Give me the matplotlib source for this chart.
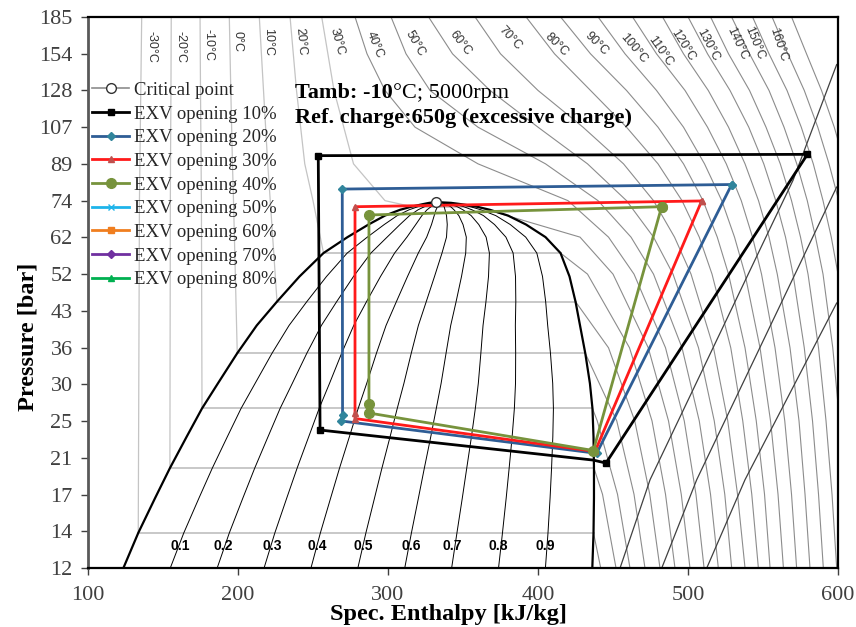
import numpy as np
import matplotlib.pyplot as plt

plt.rcParams['font.family'] = ['Liberation Serif', 'DejaVu Serif']

# ── R744 saturation dome (p in bar, h in kJ/kg) ─────────────────────
dome_p  = [12.0, 14.28, 17.0, 19.70, 23.0, 26.49, 30.0, 34.85, 40.0, 45.02,
           51.0, 57.29, 62.0, 66.0, 69.0, 71.0, 72.14, 73.0, 73.5, 73.77]
dome_hl = [123.6, 133.5, 144.8, 154.6, 165.7, 176.0, 186.6, 199.5, 212.5, 226.0,
           241.0, 257.0, 273.0, 287.0, 298.0, 308.0, 315.8, 323.0, 327.5, 332.0]
dome_hv = [436.2, 437.0, 437.3, 437.3, 437.0, 436.3, 434.6, 431.5, 428.0, 425.0,
           421.0, 415.0, 405.0, 392.0, 380.0, 368.0, 359.0, 349.0, 342.0, 332.0]
crit_h = [332.0]
crit_p = [73.8]
quality = [0.1, 0.2, 0.3, 0.4, 0.5, 0.6, 0.7, 0.8, 0.9]

# subcritical isotherms: saturation pressure and liquid branch
sat_T = [-30, -20, -10, 0, 10, 20, 30]
sat_p = [14.28, 19.70, 26.49, 34.85, 45.02, 57.29, 72.14]
liq_p = [185.0, 128.4, 89.2, 74.3]
liq_h = [
    [135.8, 135.2, 134.6, 134.3],
    [155.5, 155.3, 155.0, 154.9],
    [174.7, 175.0, 175.4, 175.6],
    [194.2, 195.2, 196.3, 197.0],
    [214.2, 217.0, 219.8, 221.5],
    [234.7, 239.0, 244.5, 250.0],
    [255.8, 264.0, 277.0, 298.0],
]

# vapour / supercritical isotherms on a pressure grid (nan = inside dome or liquid)
iso_p = [12.0, 17.3, 24.9, 35.8, 51.6, 62.0, 74.3, 89.2, 107.0, 128.4, 154.0, 185.0]
iso_T = [-30, -20, -10, 0, 10, 20, 30, 40, 50, 60, 70, 80, 90, 100,
         110, 120, 130, 140, 150, 160, 170, 180]
nan = np.nan
iso_h = [
    [441.8, nan, nan, nan, nan, nan, nan, nan, nan, nan, nan, nan],
    [452.0, 443.0, nan, nan, nan, nan, nan, nan, nan, nan, nan, nan],
    [461.3, 453.0, 439.5, nan, nan, nan, nan, nan, nan, nan, nan, nan],
    [471.3, 464.0, 452.5, nan, nan, nan, nan, nan, nan, nan, nan, nan],
    [481.3, 474.5, 464.5, 447.0, nan, nan, nan, nan, nan, nan, nan, nan],
    [491.3, 485.0, 476.0, 461.0, 433.0, nan, nan, nan, nan, nan, nan, nan],
    [501.3, 495.5, 487.0, 473.5, 450.0, 428.0, nan, nan, nan, nan, nan, nan],
    [510.7, 505.3, 497.5, 485.0, 464.0, 447.0, 420.0, 360.0, 318.0, 298.0, 286.0, 278.0],
    [520.2, 515.0, 507.5, 496.0, 477.0, 462.0, 440.0, 405.0, 360.0, 328.0, 312.0, 302.0],
    [529.1, 524.5, 517.5, 507.0, 490.0, 477.0, 459.0, 433.0, 400.0, 368.0, 343.0, 327.0],
    [538.0, 533.0, 526.5, 517.0, 502.0, 491.0, 477.0, 457.0, 430.0, 400.0, 375.0, 358.0],
    [546.9, 542.5, 536.5, 528.5, 516.0, 507.5, 496.0, 480.0, 459.0, 435.0, 411.0, 392.0],
    [554.7, 551.0, 545.5, 538.0, 527.0, 519.5, 510.0, 497.0, 480.0, 459.0, 435.0, 415.0],
    [563.6, 560.0, 555.0, 548.0, 538.0, 531.0, 522.5, 511.0, 497.0, 479.0, 458.0, 440.0],
    [572.4, 569.0, 564.5, 558.0, 549.0, 543.0, 535.5, 525.5, 513.0, 498.0, 479.0, 463.0],
    [581.3, 578.0, 574.0, 568.0, 559.5, 554.0, 547.0, 538.0, 527.0, 513.5, 497.0, 483.0],
    [590.2, 587.0, 583.0, 577.5, 570.0, 565.0, 558.5, 550.5, 540.5, 528.0, 513.0, 500.0],
    [599.1, 596.0, 592.0, 587.0, 580.0, 575.0, 569.0, 561.5, 552.0, 541.0, 527.0, 515.0],
    [608.0, 605.0, 601.0, 596.5, 590.0, 585.0, 579.5, 572.5, 564.0, 554.0, 541.0, 529.0],
    [617.0, 614.0, 610.5, 606.0, 600.0, 595.5, 590.0, 583.5, 575.5, 566.0, 554.0, 543.0],
    [626.0, 623.0, 619.5, 615.5, 609.5, 605.5, 600.5, 594.0, 586.5, 577.5, 566.5, 556.0],
    [635.0, 632.0, 628.5, 624.5, 619.0, 615.0, 610.5, 604.5, 597.5, 589.0, 579.0, 569.0],
]

# isentropes in the superheated region
isen_h = [[454.7, 474.7, 570.0, 599.1], [482.5, 505.8, 599.1], [512.5, 538.0, 599.1]]
isen_p = [[12.0, 18.6, 82.2, 146.0], [12.0, 18.6, 79.5], [12.0, 18.6, 44.7]]

# measured cycles
exv10_h = [579.6, 253.5, 254.7, 436.9, 445.3, 579.6]
exv10_p = [93.5, 92.9, 23.8, 20.5, 20.2, 93.5]
exv20_h = [529.1, 269.5, 269.7, 268.6, 439.1, 529.1]
exv20_p = [80.5, 78.7, 25.6, 24.9, 21.2, 80.5]
exv30_h = [509.1, 278.0, 278.0, 278.0, 438.0, 509.1]
exv30_p = [74.2, 72.1, 25.9, 25.2, 21.4, 74.2]
exv40_h = [482.4, 287.3, 287.3, 287.3, 436.9, 482.4]
exv40_p = [72.1, 69.2, 27.1, 25.9, 21.5, 72.1]

yticks = [12 * 1.2 ** k for k in range(16)]
ytick_labels = ['12', '14', '17', '21', '25', '30', '36', '43', '52', '62',
                '74', '89', '107', '128', '154', '185']
xticks = [100, 200, 300, 400, 500, 600]

LIQ_GREY = '#c4c4c4'
VAP_GREY = '#8c8c8c'

fig = plt.figure(figsize=(8.56, 6.27), dpi=100)
ax = fig.add_axes([0.1028, 0.0941, 0.8762, 0.8788])
ax.set_yscale('log')
ax.set_xlim(100, 600)
ax.set_ylim(12, 12 * 1.2 ** 15)

# liquid side + two-phase plateau of the subcritical isotherms
for ps, row in zip(sat_p, liq_h):
    hl = np.interp(ps, dome_p, dome_hl)
    hv = np.interp(ps, dome_p, dome_hv)
    ax.plot(row + [hl], liq_p + [ps], color=LIQ_GREY, lw=0.9, zorder=1)
    ax.plot([hl, hv], [ps, ps], color=LIQ_GREY, lw=1.3, zorder=1)

# vapour / supercritical branches
for T, row in zip(iso_T, iso_h):
    hs = [h for h in row if not np.isnan(h)]
    ps = [p for h, p in zip(row, iso_p) if not np.isnan(h)]
    if T in sat_T:
        i = sat_T.index(T)
        hs = hs + [np.interp(sat_p[i], dome_p, dome_hv)]
        ps = ps + [sat_p[i]]
    ax.plot(hs, ps, color=VAP_GREY, lw=0.8, zorder=1)

for hs, ps in zip(isen_h, isen_p):
    ax.plot(hs, ps, color='#404040', lw=0.9, zorder=1)

# quality lines and dome
hl_arr = np.array(dome_hl)
hv_arr = np.array(dome_hv)
for q in quality:
    ax.plot(hl_arr + q * (hv_arr - hl_arr), dome_p, color='black', lw=0.7, zorder=2)
ax.plot(dome_hl, dome_p, color='black', lw=1.6, zorder=2)
ax.plot(dome_hv, dome_p, color='black', lw=1.6, zorder=2)

q_label_h = [161.3, 190.2, 223.1, 252.5, 283.5, 315.3, 342.5, 373.5, 404.7]
for q, h in zip(quality, q_label_h):
    ax.text(h, 13.4, f'{q:.1f}', family='Liberation Sans', fontweight='bold',
            fontsize=10, ha='center', va='center', zorder=3)

# isotherm labels along the top
lab_x = [0.0849, 0.1227, 0.1604, 0.199, 0.2404, 0.2827, 0.3316, 0.3827, 0.436,
         0.496, 0.5627, 0.625, 0.678, 0.727, 0.7627, 0.7937, 0.827, 0.865, 0.889, 0.920]
lab_y = [0.946, 0.946, 0.949, 0.955, 0.955, 0.955, 0.955, 0.949, 0.952,
         0.952, 0.961, 0.949, 0.952, 0.943, 0.937, 0.949, 0.949, 0.952, 0.952, 0.949]
lab_rot = [-90, -90, -90, -90, -90, -85, -75, -68, -60, -52, -47, -45, -45,
           -50, -55, -58, -62, -65, -68, -72]
for T, x, y, r in zip(iso_T[:20], lab_x, lab_y, lab_rot):
    ax.text(x, y, f'{T}°C', transform=ax.transAxes, rotation=r,
            family='Liberation Sans', fontsize=9, color='#333333',
            ha='center', va='center', rotation_mode='anchor', zorder=3)

# cycles
ax.plot(crit_h, crit_p, '-o', color='#8c8c8c', mfc='white', mec='#333333',
        ms=7, lw=1.2, label='Critical point', zorder=6)
ax.plot(exv10_h, exv10_p, '-s', color='black', ms=5, lw=2.0,
        markevery=[0, 1, 2, 4], label='EXV opening 10%', zorder=4)
ax.plot(exv20_h, exv20_p, '-D', color='#2e5d95', mfc='#31859c', mec='#31859c',
        ms=4, lw=2.0, label='EXV opening 20%', zorder=4)
ax.plot(exv30_h, exv30_p, '-^', color='#ff1a1a', mfc='#c0504d', mec='#c0504d',
        ms=5, lw=2.0, label='EXV opening 30%', zorder=4)
ax.plot(exv40_h, exv40_p, '-o', color='#77933c', ms=7, lw=2.0,
        label='EXV opening 40%', zorder=5)
ax.plot([], [], '-x', color='#1eb4ea', ms=5, lw=2.0, label='EXV opening 50%')
ax.plot([], [], '-s', color='#f07e1f', ms=5, lw=2.0, label='EXV opening 60%')
ax.plot([], [], '-D', color='#7030a0', ms=4, lw=2.0, label='EXV opening 70%')
ax.plot([], [], '-^', color='#00b050', ms=5, lw=2.0, label='EXV opening 80%')

leg = ax.legend(loc='upper left', bbox_to_anchor=(-0.004, 0.896), frameon=False,
                fontsize=13.5, handlelength=1.95, handletextpad=0.25,
                labelspacing=0.35, borderaxespad=0.0)
for t in leg.get_texts():
    t.set_color('#262626')

t1 = ax.text(0.276, 0.862, 'Tamb: -10', transform=ax.transAxes, fontsize=16,
             fontweight='bold', va='center', ha='left')
ax.annotate('°C; 5000rpm', xy=(1, 0), xycoords=t1, va='bottom', ha='left',
            fontsize=16)
ax.text(0.276, 0.816, 'Ref. charge:650g (excessive charge)', transform=ax.transAxes,
        fontsize=16, fontweight='bold', va='center', ha='left')

# axes cosmetics
ax.set_yticks(yticks)
ax.set_yticklabels(ytick_labels)
ax.minorticks_off()
ax.set_xticks(xticks)
ax.tick_params(labelsize=16, colors='#404040', direction='out', length=5, width=1)
ax.tick_params(axis='y', pad=6)
ax.tick_params(axis='x', pad=8)
for s in ['top', 'right', 'bottom']:
    ax.spines[s].set_color('black')
    ax.spines[s].set_linewidth(1.6)
ax.spines['left'].set_color('#595959')
ax.spines['left'].set_linewidth(2.0)
ax.set_xlabel('Spec. Enthalpy [kJ/kg]', fontsize=17.5, fontweight='bold', va='top')
ax.xaxis.set_label_coords(0.48, -0.066)
ax.set_ylabel('Pressure [bar]', fontsize=17.5, fontweight='bold', va='center')
ax.yaxis.set_label_coords(-0.08, 0.42)

fig.savefig('out.png', dpi=100)
